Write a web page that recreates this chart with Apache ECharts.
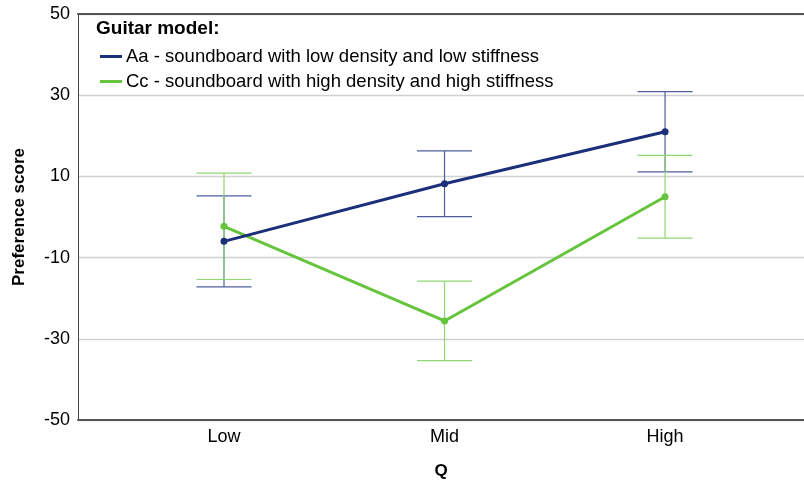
<!DOCTYPE html>
<html>
<head>
<meta charset="utf-8">
<script src="https://cdn.jsdelivr.net/npm/echarts@6/dist/echarts.min.js"></script>
<style>
  html, body { margin: 0; padding: 0; background: #fff; }
  #chart { width: 804px; height: 481px; }
</style>
</head>
<body>
<div id="chart"></div>
<script>
// Preference score by Q level, two guitar models, mean ± 95% CI
const categories = ['Low', 'Mid', 'High'];
const seriesNames = [
  'Aa - soundboard with low density and low stiffness',
  'Cc - soundboard with high density and high stiffness'
];
const aaMean = [-6.0, 8.2, 21.0];
const aaLow  = [-17.2, 0.1, 11.1];
const aaHigh = [5.2, 16.3, 30.9];
const ccMean = [-2.3, -25.6, 5.0];
const ccLow  = [-15.4, -35.4, -5.2];
const ccHigh = [10.8, -15.8, 15.2];
const yTicks = [-50, -30, -10, 10, 30, 50];

const navy = '#1b2f7b';
const green = '#66c43c';
const navyBar = '#4c5e9c';
const greenBar = '#8fd772';

const font = '"Liberation Sans", Arial, sans-serif';

function pts(means) {
  return means.map((v, i) => [i + 1, v]);
}
function bars(lo, hi) {
  return lo.map((v, i) => [i + 1, v, hi[i]]);
}
function errorBar(color) {
  return function (params, api) {
    const x = api.value(0);
    const a = api.coord([x, api.value(1)]);
    const b = api.coord([x, api.value(2)]);
    const w = 27.5;
    const style = { stroke: color, lineWidth: 1.2 };
    return {
      type: 'group',
      children: [
        { type: 'line', shape: { x1: a[0], y1: a[1], x2: b[0], y2: b[1] }, style },
        { type: 'line', shape: { x1: a[0] - w, y1: a[1], x2: a[0] + w, y2: a[1] }, style },
        { type: 'line', shape: { x1: b[0] - w, y1: b[1], x2: b[0] + w, y2: b[1] }, style }
      ]
    };
  };
}

const xRange = { min: 0.338, max: 3.63 };
const frameLine = { show: true, onZero: false, lineStyle: { color: '#555', width: 2 } };

const chart = echarts.init(document.getElementById('chart'));
chart.setOption({
  animation: false,
  textStyle: { fontFamily: font },
  title: {
    text: 'Guitar model:',
    left: 96, top: 19, padding: 0,
    textStyle: { fontFamily: font, fontSize: 19, fontWeight: 'bold', color: '#000' }
  },
  legend: {
    data: seriesNames,
    orient: 'vertical',
    left: 100, top: 47, padding: 0,
    icon: 'rect',
    itemWidth: 22, itemHeight: 3,
    itemGap: 6,
    textStyle: { fontFamily: font, fontSize: 18.5, color: '#000', padding: [0, 0, 0, -1] }
  },
  grid: { left: 78, right: 0, top: 14, bottom: 61, outerBoundsMode: 'none' },
  xAxis: [{
    type: 'value',
    min: xRange.min, max: xRange.max,
    name: 'Q',
    nameLocation: 'middle',
    nameGap: 43,
    nameTextStyle: { fontFamily: font, fontSize: 17, fontWeight: 'bold', color: '#000' },
    axisLine: frameLine,
    axisTick: { show: false },
    splitLine: { show: false },
    axisLabel: {
      customValues: [1, 2, 3],
      formatter: v => categories[Math.round(v) - 1] || '',
      fontSize: 18, color: '#000', margin: 8
    }
  }, {
    type: 'value',
    position: 'top',
    min: xRange.min, max: xRange.max,
    axisLine: frameLine,
    axisTick: { show: false },
    axisLabel: { show: false },
    splitLine: { show: false }
  }],
  yAxis: {
    type: 'value',
    min: -50, max: 50, interval: 20,
    name: 'Preference score',
    nameLocation: 'middle',
    nameGap: 50,
    nameTextStyle: { fontFamily: font, fontSize: 17, fontWeight: 'bold', color: '#000' },
    axisLine: { show: true, onZero: false, lineStyle: { color: '#444', width: 1 } },
    axisTick: { show: false },
    axisLabel: {
      customValues: yTicks,
      fontSize: 18, color: '#000', margin: 8
    },
    splitLine: { show: true, lineStyle: { color: '#d0d0d0', width: 1.3 } }
  },
  series: [
    {
      name: 'Aa CI', type: 'custom', xAxisIndex: 0,
      data: bars(aaLow, aaHigh), renderItem: errorBar(navyBar),
      encode: { x: 0, y: [1, 2] }, silent: true, z: 2
    },
    {
      name: 'Cc CI', type: 'custom', xAxisIndex: 0,
      data: bars(ccLow, ccHigh), renderItem: errorBar(greenBar),
      encode: { x: 0, y: [1, 2] }, silent: true, z: 2
    },
    {
      name: seriesNames[0], type: 'line', xAxisIndex: 0,
      data: pts(aaMean), color: navy,
      symbol: 'circle', symbolSize: 7,
      lineStyle: { color: navy, width: 3 },
      itemStyle: { color: navy }, z: 4
    },
    {
      name: seriesNames[1], type: 'line', xAxisIndex: 0,
      data: pts(ccMean), color: green,
      symbol: 'circle', symbolSize: 7,
      lineStyle: { color: green, width: 3 },
      itemStyle: { color: green }, z: 3
    }
  ]
});
</script>
</body>
</html>
